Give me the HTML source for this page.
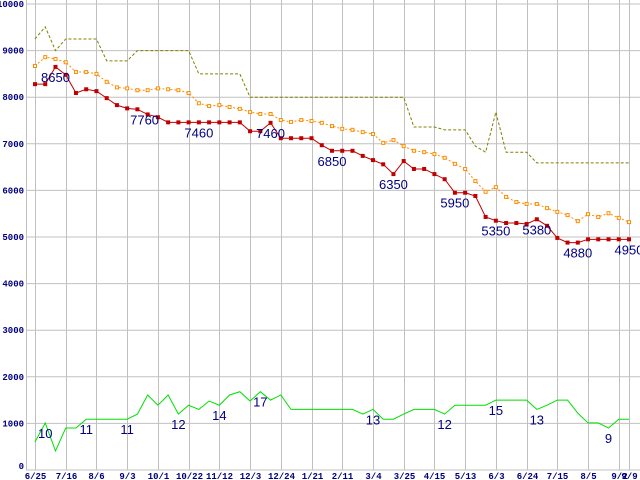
<!DOCTYPE html>
<html><head><meta charset="utf-8">
<style>
html,body{margin:0;padding:0;background:#fff;}
svg{display:block;}
</style></head>
<body>
<svg id="chart" width="640" height="480" xmlns="http://www.w3.org/2000/svg"></svg>
<script>
const dateLabels = ["6/25","7/16","8/6","9/3","10/1","10/22","11/12","12/3","12/24","1/21","2/11","3/4","3/25","4/15","5/13","6/3","6/24","7/15","8/5","9/2","9/9"];
const dateIndex = [0,3,6,9,12,15,18,21,24,27,30,33,36,39,42,45,48,51,54,57,58];
const yTicks = [0,1000,2000,3000,4000,5000,6000,7000,8000,9000,10000];
const redSeries = [8280,8280,8650,8480,8090,8170,8130,7980,7830,7760,7740,7630,7570,7460,7460,7460,7460,7460,7460,7460,7460,7270,7270,7450,7120,7120,7120,7120,6970,6850,6850,6850,6740,6650,6560,6350,6630,6460,6460,6350,6240,5950,5950,5880,5430,5350,5300,5300,5280,5380,5240,4980,4880,4880,4950,4950,4950,4950,4950];
const orangeSeries = [8670,8860,8820,8750,8540,8540,8500,8330,8210,8190,8150,8150,8190,8170,8150,8090,7870,7810,7830,7790,7750,7680,7640,7640,7510,7470,7510,7490,7450,7380,7320,7300,7250,7210,7020,7080,6950,6850,6820,6780,6700,6570,6460,6200,5970,6070,5860,5750,5710,5710,5620,5540,5470,5340,5490,5430,5510,5410,5320];
const oliveSeries = [9250,9510,9000,9250,9250,9250,9250,8780,8780,8780,9000,9000,9000,9000,9000,9000,8500,8500,8500,8500,8500,8000,8000,8000,8000,8000,8000,8000,8000,8000,8000,8000,8000,8000,8000,8000,8000,7360,7360,7360,7300,7300,7300,6950,6820,7680,6820,6820,6820,6590,6590,6590,6590,6590,6590,6590,6590,6590,6590];
const greenSeries = [600,1010,410,900,900,1090,1090,1090,1090,1090,1200,1610,1390,1610,1200,1390,1300,1480,1390,1610,1680,1480,1680,1500,1610,1300,1300,1300,1300,1300,1300,1300,1200,1300,1090,1090,1200,1300,1300,1300,1200,1390,1390,1390,1390,1500,1500,1500,1500,1300,1390,1500,1500,1220,1010,1010,900,1090,1090];
const redLabelIdx = [2,10.7,16,23,29,35,41,45,49,53,58];
const redLabelText = ["8650","7760","7460","7460","6850","6350","5950","5350","5380","4880","4950"];
const greenLabelIdx = [1,5,9,14,18,22,33,40,45,49,56];
const greenLabelText = ["10","11","11","12","14","17","13","12","15","13","9"];

const NS="http://www.w3.org/2000/svg";
const svg=document.getElementById('chart');
const X0=35, DX=(629-35)/58, Y0=470, YS=466/10000;
const xs=i=>X0+DX*i;
const ys=v=>Y0-v*YS;
function mk(tag,attrs,parent){const e=document.createElementNS(NS,tag);for(const k in attrs)e.setAttribute(k,attrs[k]);(parent||svg).appendChild(e);return e;}

const grid=mk('g',{});


yTicks.forEach(t=>{
  const l=mk('line',{x1:26,x2:640,y1:ys(t),y2:ys(t),stroke:'#c0c0c0','stroke-width':1},grid);
  
  
  const tx=mk('text',{x:24,y:ys(t)+(t===0?-1:3),'text-anchor':'end','font-family':'Liberation Mono, monospace','font-size':9,'font-weight':'bold',fill:'#000080'});
  tx.textContent=t;
  
  
});
dateIndex.forEach((di,k)=>{
  const x=Math.round(xs(di))+0.5;
  const l=mk('line',{x1:x,x2:x,y1:0,y2:470,stroke:'#c0c0c0','stroke-width':1},grid);
  
  
  const tx=mk('text',{x:x,y:479,'text-anchor':'middle','font-family':'Liberation Mono, monospace','font-size':9,'font-weight':'bold',fill:'#000080'});
  tx.textContent=dateLabels[k];
  
  
});
const ax=mk('line',{x1:26.5,x2:26.5,y1:0,y2:470,stroke:'#c0c0c0','stroke-width':1});



function line(arr,color,dash,name,w){
  const p=mk('polyline',{points:arr.map((v,i)=>xs(i)+','+ys(v)).join(' '),fill:'none',stroke:color,'stroke-width':w||1,'stroke-dasharray':dash||'none'});
  
  
}
line(oliveSeries,'#808000','3,2','olive-line');
line(greenSeries,'#00e000',null,'green-line');
line(orangeSeries,'#ff8c00','2,2','orange-line');
orangeSeries.forEach((v,i)=>{
  const r=mk('rect',{x:xs(i)-1.5,y:ys(v)-1.5,width:3,height:3,fill:'#fff',stroke:'#ff8c00','stroke-width':1});
  
  
});
line(redSeries,'#c00000',null,'red-line');
redSeries.forEach((v,i)=>{
  const r=mk('rect',{x:xs(i)-2,y:ys(v)-2,width:4,height:4,fill:'#c00000'});
  
  
});
function labels(idx,txt,arr,name){
  idx.forEach((di,k)=>{
    const v=arr[Math.floor(di)];
    const t=mk('text',{x:xs(di),y:ys(v)+15,'text-anchor':'middle','font-family':'Liberation Sans, sans-serif','font-size':13,fill:'#000080'});
    t.textContent=txt[k];
    
    
  });
}
labels(redLabelIdx,redLabelText,redSeries,'red-value-label');
labels(greenLabelIdx,greenLabelText,greenSeries,'green-value-label');
</script>
</body></html>
